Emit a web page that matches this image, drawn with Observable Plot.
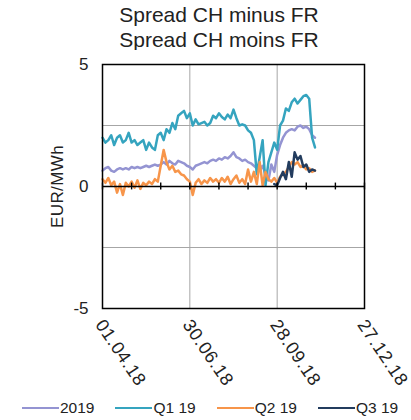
<!DOCTYPE html>
<html><head><meta charset="utf-8">
<script src="https://cdn.jsdelivr.net/npm/d3@7"></script>
<script src="https://cdn.jsdelivr.net/npm/@observablehq/plot@0.6"></script>
<style>
body{margin:0;background:#fff;font-family:"Liberation Sans",Arial,sans-serif;}
#wrap{position:relative;width:411px;height:420px;overflow:hidden;}
#title{position:absolute;top:2px;left:27px;width:384px;text-align:center;font-size:21px;line-height:25px;color:#222;}
#chart{position:absolute;top:50px;left:0;}
#legend{position:absolute;top:399px;left:22px;display:flex;gap:21px;font-size:15.5px;color:#222;align-items:center;}
.it{display:flex;align-items:center;}
.sw{width:37px;height:2.5px;margin-right:1px;}
</style></head>
<body><div id="wrap"><div id="title">Spread CH minus FR<br>Spread CH moins FR</div><div id="chart"></div><div id="legend"></div></div>
<script>
const dates = [
"2018-04-01","2018-04-04","2018-04-07","2018-04-10","2018-04-13","2018-04-16","2018-04-19","2018-04-22","2018-04-25","2018-04-28",
"2018-05-01","2018-05-04","2018-05-07","2018-05-10","2018-05-13","2018-05-16","2018-05-19","2018-05-22","2018-05-25","2018-05-28","2018-05-31",
"2018-06-03","2018-06-06","2018-06-09","2018-06-12","2018-06-15","2018-06-18","2018-06-21","2018-06-24","2018-06-27","2018-06-30",
"2018-07-03","2018-07-06","2018-07-09","2018-07-12","2018-07-15","2018-07-18","2018-07-21","2018-07-24","2018-07-27","2018-07-30",
"2018-08-02","2018-08-05","2018-08-08","2018-08-11","2018-08-14","2018-08-17","2018-08-20","2018-08-23","2018-08-26","2018-08-29",
"2018-09-01","2018-09-04","2018-09-07","2018-09-10","2018-09-13","2018-09-16","2018-09-19","2018-09-22","2018-09-25","2018-09-28",
"2018-10-01","2018-10-04","2018-10-07","2018-10-10","2018-10-13","2018-10-16","2018-10-19","2018-10-22","2018-10-25","2018-10-28","2018-10-31",
"2018-11-03","2018-11-06"];
const y2019 = [0.65,0.75,0.8,0.65,0.6,0.7,0.75,0.7,0.75,0.7,
0.8,0.75,0.8,0.75,0.8,0.85,0.8,0.85,0.9,0.85,0.9,
1.0,0.9,1.05,0.95,0.9,1.05,1.0,0.95,0.85,0.8,
0.7,0.85,0.9,0.95,1.0,0.95,1.05,1.1,1.05,1.15,
1.1,1.2,1.15,1.25,1.4,1.2,1.15,1.05,1.1,1.0,
0.95,0.85,0.75,0.65,0.85,0.5,0.25,0.9,0.6,1.3,
1.7,2.0,2.2,2.3,2.35,2.3,2.45,2.5,2.4,2.45,2.35,
2.1,2.0];
const q1_19 = [2.0,1.8,1.9,2.1,1.7,2.0,2.1,1.8,1.9,2.2,
1.8,1.9,1.7,1.8,1.9,1.5,1.8,1.6,1.5,2.1,2.2,
1.9,2.35,2.2,2.6,2.35,2.9,3.0,3.1,2.8,3.0,
2.5,2.75,2.55,2.6,2.65,2.5,2.6,2.9,2.8,3.0,
2.85,2.75,2.95,2.8,3.15,2.8,2.5,2.55,2.5,2.3,
2.2,1.9,0.5,1.2,1.9,0.05,1.0,1.4,1.8,1.5,
2.5,2.7,3.2,3.1,3.45,3.6,3.4,3.55,3.7,3.75,3.6,
2.0,1.6];
const q2_19 = [0.3,0.15,0.35,0.05,0.2,-0.25,0.1,-0.35,0.15,0.0,
0.2,-0.05,0.25,-0.1,0.15,0.05,0.2,0.1,0.3,0.2,0.85,
1.5,1.0,0.7,0.85,0.6,0.65,0.5,0.45,0.3,0.2,
-0.35,0.15,0.3,0.1,0.25,0.15,0.35,0.2,0.3,0.15,
0.35,0.2,0.4,0.1,0.3,0.45,0.15,0.3,0.1,0.7,
0.2,0.6,0.1,1.0,0.05,0.6,0.3,0.2,0.35,0.15,
0.4,0.5,0.6,0.8,1.0,0.9,1.0,0.8,0.85,0.7,0.75,
0.6,0.65];
const q3Dates = ["2018-09-25","2018-09-28","2018-10-01","2018-10-04","2018-10-07","2018-10-10","2018-10-13","2018-10-16","2018-10-19","2018-10-22","2018-10-25","2018-10-28","2018-10-31","2018-11-03","2018-11-06"];
const q3_19 = [0.1,0.05,0.35,0.6,0.3,1.0,0.4,1.4,1.1,1.25,0.8,0.9,0.6,0.7,0.65];
const seriesNames = ["2019","Q1 19","Q2 19","Q3 19"];
const seriesColors = ["#9494d2","#35a4bf","#f7954a","#233c5e"];
const xDomain = ["2018-04-01","2018-12-27"];
const xTicks = ["2018-04-01","2018-06-30","2018-09-28","2018-12-27"];
const xMinorTicks = ["2018-04-01","2018-05-01","2018-05-31","2018-06-30","2018-07-30","2018-08-29","2018-09-28","2018-10-28","2018-11-27","2018-12-27"];
const yTicks = [-5,0,5];
const yGrid = [-2.5,2.5];

const P = d3.utcParse("%Y-%m-%d");
const fmt = d3.utcFormat("%d.%m.%y");
const rows = [];
[[dates,y2019],[dates,q1_19],[dates,q2_19],[q3Dates,q3_19]].forEach(([ds,vs],i)=>{
  ds.forEach((d,j)=>rows.push({date:P(d),value:vs[j],series:seriesNames[i]}));
});

const chart = Plot.plot({
  width:411, height:343,
  marginLeft:102, marginRight:47, marginTop:14, marginBottom:85,
  style:{fontFamily:"'Liberation Sans',Arial,sans-serif",color:"#222",background:"#fff"},
  x:{type:"utc",domain:xDomain.map(P)},
  y:{domain:[-5,5]},
  color:{domain:seriesNames,range:seriesColors},
  marks:[
    Plot.ruleY(yGrid,{stroke:"#a6a6a6",strokeWidth:1}),
    Plot.ruleX(xTicks.map(P),{stroke:"#a6a6a6",strokeWidth:1}),
    Plot.lineY(rows,{x:"date",y:"value",z:"series",stroke:"series",strokeWidth:2.5,strokeLinejoin:"round"}),
    Plot.ruleY([0],{stroke:"#000",strokeWidth:1.6}),
    Plot.ruleX(xMinorTicks.map(P),{y1:-0.14,y2:0.14,stroke:"#000",strokeWidth:1.4}),
    Plot.frame({stroke:"#000",strokeWidth:1.5}),
    Plot.axisY(yTicks,{tickSize:0,tickPadding:14,fontSize:17,tickFormat:d=>String(d),
      label:"EUR/MWh",labelAnchor:"center",labelArrow:"none",labelOffset:52}),
    Plot.axisX(xTicks.map(P),{tickSize:0,tickPadding:13,tickRotate:56,fontSize:18,dx:-3,tickFormat:fmt,label:null})
  ]
});
document.getElementById("chart").appendChild(chart);
chart.querySelectorAll("text").forEach(t=>{
  if(t.textContent==="EUR/MWh"){ t.setAttribute("font-size","17"); t.setAttribute("letter-spacing","0.4"); }
  if(/\d\d\.\d\d\.\d\d/.test(t.textContent)) t.setAttribute("letter-spacing","0.7");
});

const leg = document.getElementById("legend");
seriesNames.forEach((n,i)=>{
  const it=document.createElement("div");it.className="it";
  const sw=document.createElement("div");sw.className="sw";sw.style.background=seriesColors[i];
  const t=document.createElement("span");t.textContent=n;
  it.appendChild(sw);it.appendChild(t);leg.appendChild(it);
});
</script></body></html>
